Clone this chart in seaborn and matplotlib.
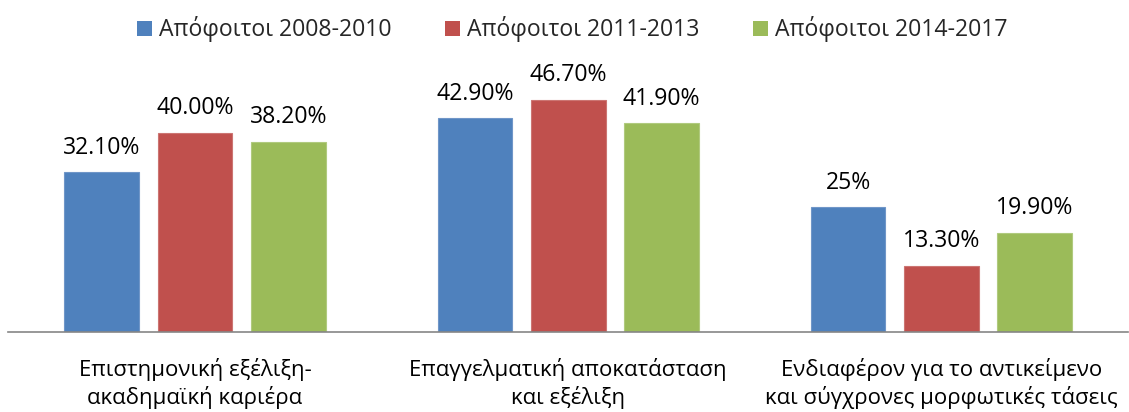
import matplotlib
matplotlib.use("Agg")
import matplotlib.pyplot as plt
from matplotlib.patches import Patch
import seaborn as sns
import pandas as pd

# Chart data
categories = [
    "Επιστημονική εξέλιξη-\nακαδημαϊκή καριέρα",
    "Επαγγελματική αποκατάσταση\nκαι εξέλιξη",
    "Ενδιαφέρον για το αντικείμενο\nκαι σύγχρονες μορφωτικές τάσεις",
]
series_names = ["Απόφοιτοι 2008-2010", "Απόφοιτοι 2011-2013", "Απόφοιτοι 2014-2017"]
values_2008_2010 = [32.1, 42.9, 25.0]
values_2011_2013 = [40.0, 46.7, 13.3]
values_2014_2017 = [38.2, 41.9, 19.9]
value_labels_2008_2010 = ["32.10%", "42.90%", "25%"]
value_labels_2011_2013 = ["40.00%", "46.70%", "13.30%"]
value_labels_2014_2017 = ["38.20%", "41.90%", "19.90%"]
colors = ["#4F81BD", "#C0504D", "#9BBB59"]
edge_colors = ["#7096C8", "#CC7572", "#B0CA7E"]

sns.set_theme(style="white")
plt.rcParams["font.family"] = ["Open Sans", "DejaVu Sans"]

series_values = [values_2008_2010, values_2011_2013, values_2014_2017]
series_labels = [value_labels_2008_2010, value_labels_2011_2013, value_labels_2014_2017]

rows = []
for name, vals, labs in zip(series_names, series_values, series_labels):
    for cat, v, lab in zip(categories, vals, labs):
        rows.append({"category": cat, "series": name, "value": v, "label": lab})
df = pd.DataFrame(rows)

fig = plt.figure(figsize=(11.29, 4.12), dpi=100)
ax = fig.add_axes([8.4 / 1129, 80.3 / 412, 1119.7 / 1129, 248.5 / 412])

sns.barplot(
    data=df, x="category", y="value", hue="series",
    order=categories, hue_order=series_names,
    palette=colors, saturation=1, width=0.75, gap=0.2, legend=False,
    errorbar=None, ax=ax,
)

ax.set_xlim(-0.5, 2.5)
ax.set_ylim(0, 50)

# Bar edges and value labels
for container, name, ec in zip(ax.containers, series_names, edge_colors):
    labs = df[df["series"] == name]["label"].tolist()
    for bar in container:
        bar.set_edgecolor(ec)
        bar.set_linewidth(0.8)
    for bar, lab in zip(container, labs):
        ax.annotate(
            lab,
            (bar.get_x() + bar.get_width() / 2, bar.get_height()),
            xytext=(0, 13.3), textcoords="offset points",
            ha="center", va="baseline", fontsize=16.6, color="#000000",
            annotation_clip=False,
        )

for side in ["left", "right", "top"]:
    ax.spines[side].set_visible(False)
ax.spines["bottom"].set_color("#868686")
ax.spines["bottom"].set_linewidth(1.2)
ax.set_yticks([])
ax.set_xlabel("")
ax.set_ylabel("")
ax.tick_params(axis="x", length=0, pad=19, labelsize=16, labelcolor="#000000")
for t in ax.get_xticklabels():
    t.set_linespacing(1.25)

handles = [Patch(facecolor=c, edgecolor="none") for c in colors]
fig.legend(
    handles, series_names, loc="center", bbox_to_anchor=(572.5 / 1129, 1 - 29.5 / 412),
    ncol=3, frameon=False, fontsize=16.6, handlelength=0.65, handleheight=0.65,
    handletextpad=0.3, columnspacing=2.32, borderpad=0, borderaxespad=0,
)

fig.savefig("out.png", dpi=100, facecolor="white")
